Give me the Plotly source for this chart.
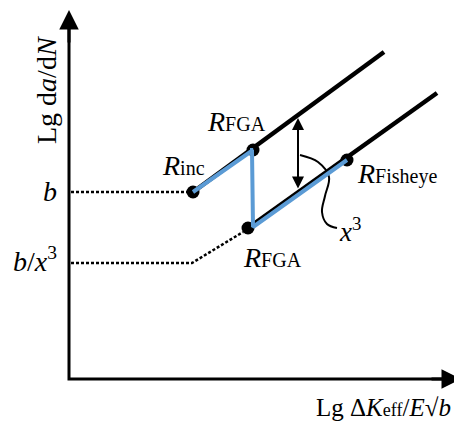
import plotly.graph_objects as go

H = 424
# Schematic data (x: Lg dK, y: Lg da/dN), arbitrary units
upper_x = [193, 384]
upper_y = [232, 372]
lower_x = [248, 437]
lower_y = [196, 331]
blue_x = [193, 253, 252, 253, 347]
blue_y = [232, 274, 274, 197, 264]
pts_x = [193, 253, 248, 347]
pts_y = [232, 274, 196, 264]
dot_b_x = [71, 190]
dot_b_y = [232, 232]
dot_bx3_x = [71, 192, 243]
dot_bx3_y = [161, 161, 192]
curve_x = [300, 318, 329, 325, 322, 327, 337]
curve_y = [269, 262, 247, 228, 212, 200, 196]
axis_x = [69, 69, 455]
axis_y = [410, 45, 45]

FONT = "Liberation Serif, Times New Roman, serif"
fig = go.Figure()

fig.add_trace(go.Scatter(x=axis_x, y=axis_y, mode="lines",
                         line=dict(color="black", width=3)))
fig.add_trace(go.Scatter(x=dot_b_x, y=dot_b_y, mode="lines",
                         line=dict(color="black", width=2.5, dash="3px,2px")))
fig.add_trace(go.Scatter(x=dot_bx3_x, y=dot_bx3_y, mode="lines",
                         line=dict(color="black", width=2.5, dash="3px,2px")))
fig.add_trace(go.Scatter(x=upper_x, y=upper_y, mode="lines",
                         line=dict(color="black", width=4.5)))
fig.add_trace(go.Scatter(x=lower_x, y=lower_y, mode="lines",
                         line=dict(color="black", width=4.5)))
fig.add_trace(go.Scatter(x=curve_x, y=curve_y, mode="lines",
                         line=dict(color="black", width=2, shape="spline")))
fig.add_trace(go.Scatter(x=pts_x, y=pts_y, mode="markers",
                         marker=dict(color="black", size=13)))
fig.add_trace(go.Scatter(x=blue_x, y=blue_y, mode="lines",
                         line=dict(color="#5b9bd5", width=4)))

# axis arrowheads
fig.add_annotation(x=69, y=414, ax=69, ay=380, xref="x", yref="y", axref="x", ayref="y",
                   showarrow=True, arrowhead=2, arrowsize=1.3, arrowwidth=3,
                   arrowcolor="black", text="", standoff=0, startstandoff=0)
fig.add_annotation(x=461, y=45, ax=430, ay=45, xref="x", yref="y", axref="x", ayref="y",
                   showarrow=True, arrowhead=2, arrowsize=1.3, arrowwidth=3,
                   arrowcolor="black", text="", standoff=0, startstandoff=0)
# double arrow
fig.add_annotation(x=298, y=306, ax=298, ay=234, xref="x", yref="y", axref="x", ayref="y",
                   showarrow=True, arrowhead=2, arrowside="end+start", arrowsize=1.2,
                   arrowwidth=2, arrowcolor="black", text="", standoff=0, startstandoff=0)

def label(x, y, text, size=28, angle=0):
    fig.add_annotation(x=x, y=y, xref="x", yref="y", text=text, showarrow=False,
                       textangle=angle, font=dict(family=FONT, size=size, color="black"))

sub = "<span style='font-size:20px'>%s</span>"
label(46, H - 90, "Lg d<i>a</i>/d<i>N</i>", size=28, angle=-90)
label(50, H - 191, "<i>b</i>", size=28)
label(35, H - 259, "<i>b</i>/<i>x</i><sup>3</sup>", size=28)
label(183, H - 165, "<i>R</i>" + sub % "inc")
label(236, H - 121, "<i>R</i>" + sub % "FGA")
label(272, H - 257, "<i>R</i>" + sub % "FGA")
label(397, H - 173, "<i>R</i>" + sub % "Fisheye")
label(350, H - 230, "<i>x</i><sup>3</sup>", size=27)
label(383, H - 407, "Lg Δ<i>K</i>" + "<span style='font-size:18px'>eff</span>" + "/<i>E</i>√<i>b</i>", size=25)

# page body has an 8px margin: size and range chosen so data units map 1:1 to window pixels
fig.update_layout(width=454, height=416, margin=dict(l=0, r=0, t=0, b=0),
                  showlegend=False, plot_bgcolor="white", paper_bgcolor="white",
                  xaxis=dict(range=[8, 462], visible=False, fixedrange=True),
                  yaxis=dict(range=[0, 416], visible=False, fixedrange=True))
fig.write_html("out.html")
